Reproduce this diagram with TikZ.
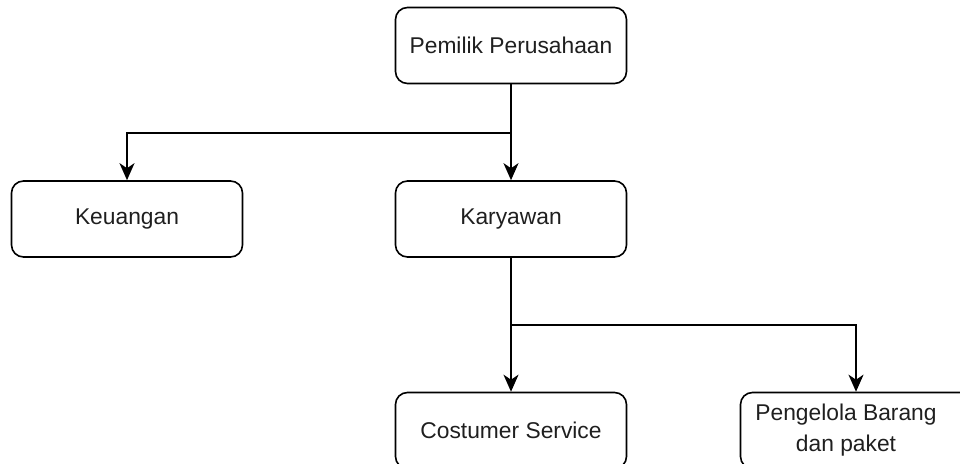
\documentclass[tikz,border=0pt]{standalone}
\usepackage{fontspec}
\setmainfont{Liberation Sans}
\usetikzlibrary{arrows.meta}
\begin{document}
\begin{tikzpicture}[x=1pt,y=1pt,
  box/.style={draw, line width=1.6pt, rounded corners=12pt, minimum width=231pt, minimum height=76pt, inner sep=0pt, font=\fontsize{22.8}{30}\selectfont, text=black!88, align=center},
  conn/.style={line width=1.8pt},
  arr/.style={conn, -{Stealth[length=17pt,width=15pt,inset=5pt]}}]
\useasboundingbox (0,0) rectangle (960,463);
\node[box] (top) at (511,417.5) {Pemilik Perusahaan};
\node[box] (keu) at (127,244) {Keuangan};
\node[box] (kar) at (511,244) {Karyawan};
\node[box] (cs) at (511,32.5) {Costumer Service};
\node[box] (pb) at (856,32.5) {};
\node[font=\fontsize{22.8}{31}\selectfont, text=black!88, align=center] (pbt) at (846,32.5) {Pengelola Barang\\dan paket};
\coordinate (j1) at (511,330);
\coordinate (j2) at (511,138);
\draw[conn] (top.south) -- (j1);
\draw[arr] (j1) -| (keu.north);
\draw[arr] (j1) -- (kar.north);
\draw[conn] (kar.south) -- (j2);
\draw[arr] (j2) -- (cs.north);
\draw[arr] (j2) -| (pb.north);
\end{tikzpicture}
\end{document}
